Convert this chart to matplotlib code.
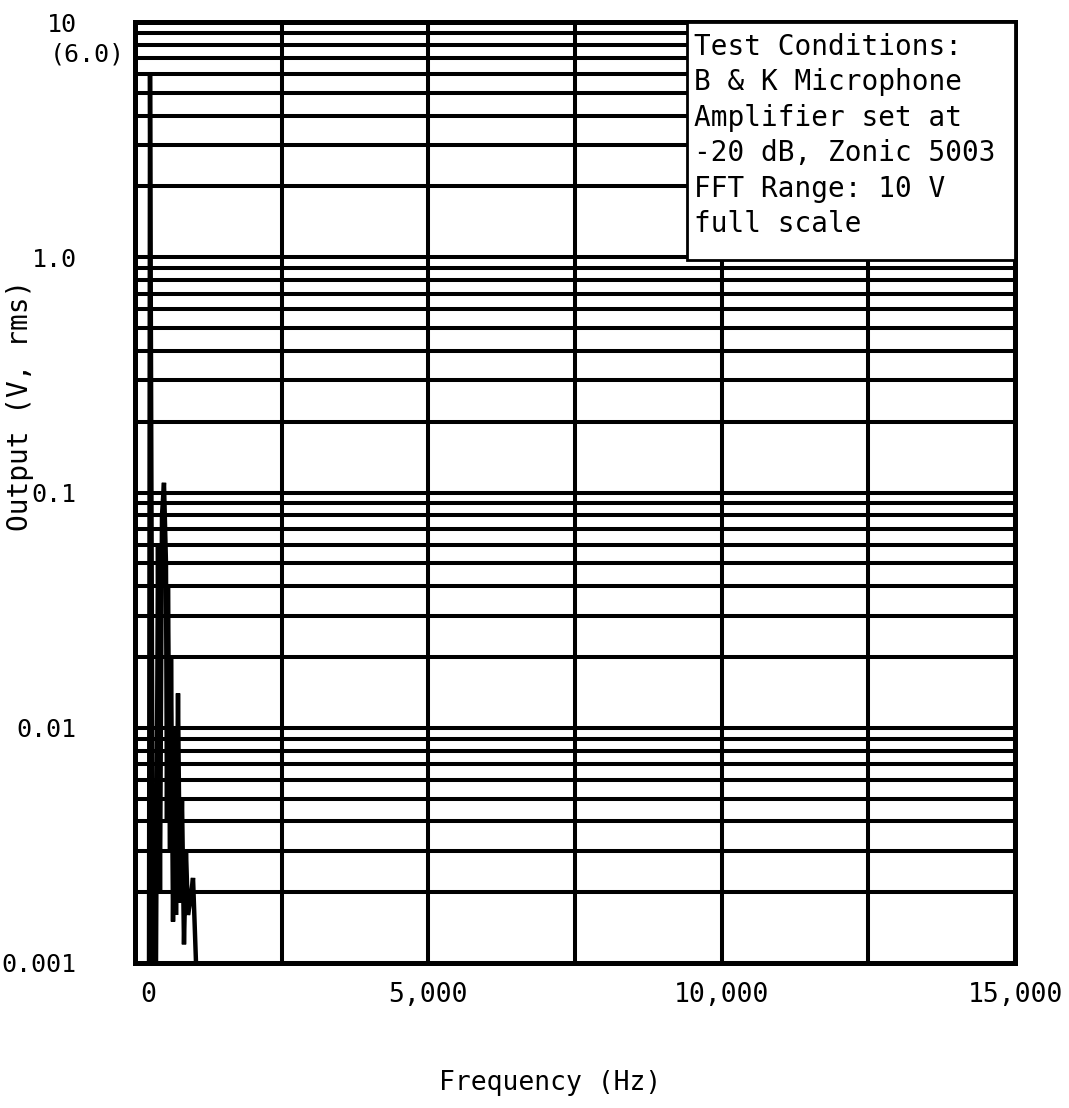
import matplotlib
matplotlib.use("Agg")
import matplotlib.pyplot as plt
from matplotlib.ticker import FixedLocator, NullFormatter, FixedFormatter, LogLocator
from matplotlib.patches import Rectangle
from matplotlib.transforms import ScaledTranslation

# Data
freq_hz = [239, 256, 307, 358, 392, 426, 460, 494, 528, 545, 562, 597, 614, 648,
           682, 699, 733, 767, 801, 835, 869, 903, 937, 989, 1040]
output_v = [0.001, 6.0, 0.001, 0.001, 0.06, 0.002, 0.08, 0.11, 0.05, 0.004, 0.04,
            0.003, 0.02, 0.0015, 0.01, 0.0016, 0.014, 0.0018, 0.005, 0.0012, 0.003,
            0.0016, 0.0018, 0.0023, 0.001]

x_ticks = [0, 5000, 10000, 15000]
x_ticklabels = ["0", "5,000", "10,000", "15,000"]
x_grid = [2500, 7500, 12500]
y_ticks = [0.001, 0.01, 0.1, 1.0, 10]
y_ticklabels = ["0.001", "0.01", "0.1", "1.0", "10"]
note_lines = ["Test Conditions:", "B & K Microphone", "Amplifier set at",
              "-20 dB, Zonic 5003", "FFT Range: 10 V", "full scale"]

W, H = 1069, 1108
fig = plt.figure(figsize=(W / 100, H / 100), dpi=100)
L, R, T, B = 135, 1015, 22, 963
ax = fig.add_axes([L / W, 1 - B / H, (R - L) / W, (B - T) / H])

mono = "DejaVu Sans Mono"
lw = 2.9

ax.plot(freq_hz, output_v, color="black", lw=3.2, solid_joinstyle="miter", zorder=3)

ax.set_yscale("log")
ax.set_xlim(0, 15000)
ax.set_ylim(0.001, 10)

ax.xaxis.set_major_locator(FixedLocator(x_ticks))
ax.xaxis.set_major_formatter(FixedFormatter(x_ticklabels))
ax.xaxis.set_minor_locator(FixedLocator(x_grid))
ax.xaxis.set_minor_formatter(NullFormatter())
ax.yaxis.set_major_locator(FixedLocator(y_ticks))
ax.yaxis.set_major_formatter(FixedFormatter(y_ticklabels))
ax.yaxis.set_minor_locator(LogLocator(base=10, subs=range(2, 10), numticks=20))
ax.yaxis.set_minor_formatter(NullFormatter())

ax.grid(True, which="both", color="black", lw=lw, zorder=1)
ax.set_axisbelow(True)
ax.tick_params(which="both", length=0)
ax.tick_params(axis="x", pad=14, labelsize=19)
ax.tick_params(axis="y", pad=42, labelsize=18)
for lab in ax.get_xticklabels() + ax.get_yticklabels():
    lab.set_fontfamily(mono)

# the "0" label sits a little right of the axis edge in the reference
t0 = ax.xaxis.get_major_ticks()[0]
t0.label1.set_transform(t0.label1.get_transform() +
                        ScaledTranslation(0.13, 0, fig.dpi_scale_trans))

for s in ax.spines.values():
    s.set_linewidth(3.6)
    s.set_color("black")

# (6.0) annotation
ax.text(-0.012, 7.3, "(6.0)", transform=ax.get_yaxis_transform(), ha="right",
        va="center", fontsize=18, family=mono)

# Note box
bx0 = (687 - L) / (R - L)
by0 = 1 - (260 - T) / (B - T)
ax.add_patch(Rectangle((bx0, by0), 1 - bx0, 1 - by0, transform=ax.transAxes,
                       facecolor="white", edgecolor="black", lw=2.0, zorder=5,
                       clip_on=False))
ax.text((694 - L) / (R - L), 1 - (33 - T) / (B - T), "\n".join(note_lines),
        transform=ax.transAxes, ha="left", va="top", fontsize=20,
        family=mono, linespacing=1.34, zorder=6)

fig.text(550 / W, 1 - 1083 / H, "Frequency (Hz)", ha="center", va="center",
         fontsize=19, family=mono)
fig.text(20 / W, 1 - 405 / H, "Output (V, rms)", ha="center", va="center",
         rotation=90, fontsize=20, family=mono)

fig.savefig("out.png", dpi=100, facecolor="white")
